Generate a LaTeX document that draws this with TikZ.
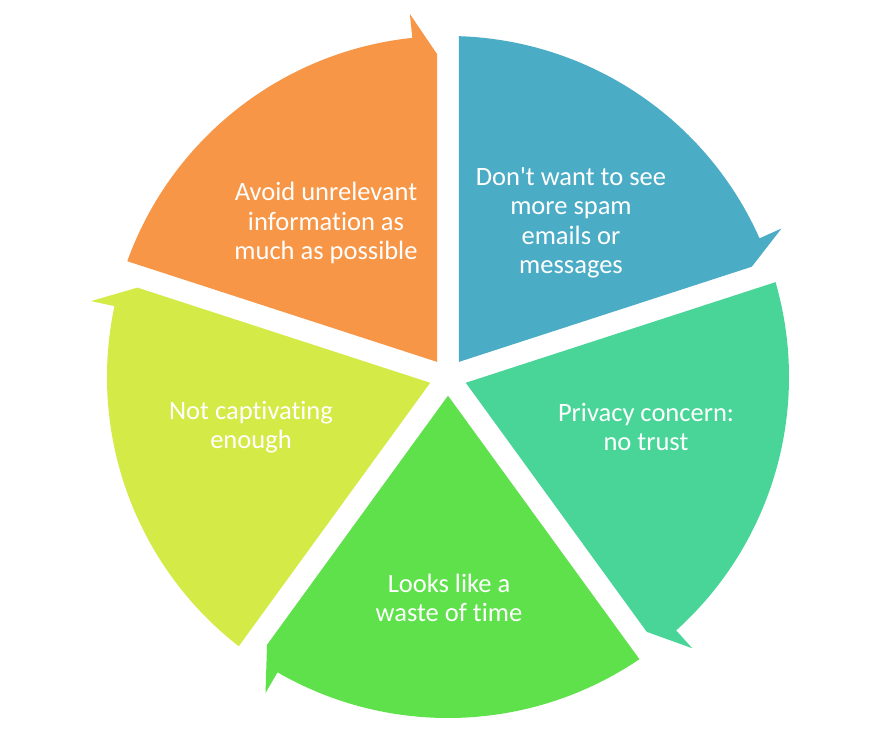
\documentclass[tikz,border=0pt]{standalone}
\usepackage{fontspec}
\setmainfont{Carlito}[Ligatures={TeXOff,NoCommon}]
\definecolor{segblue}{HTML}{4BACC6}
\definecolor{segteal}{HTML}{48D597}
\definecolor{seglime}{HTML}{5EE14A}
\definecolor{segyellow}{HTML}{D4EB47}
\definecolor{segorange}{HTML}{F79646}
\tikzset{
  label text/.style={text=white, align=center, font=\fontsize{26.5pt}{29.5pt}\selectfont, inner sep=0pt}
}
\begin{document}
\begin{tikzpicture}[x=1pt,y=1pt]
\useasboundingbox (0,0) rectangle (892,747);
\fill[white] (0,0) rectangle (892,747);
\begin{scope}[shift={(448,370)}]
\foreach \s/\c in {90/segblue, 18/segteal, -54/seglime, -126/segyellow, 162/segorange}{
  \pgfmathsetmacro\e{\s-72}
  \pgfmathsetmacro\sa{\s-1.849}
  \pgfmathsetmacro\ea{\e+6}
  \pgfmathsetmacro\ep{\e+90}
  \pgfmathsetmacro\ap{\s-36}
  \fill[\c] (\ap:18.7pt) -- (\sa:341pt)
     arc[start angle=\sa, end angle=\ea, radius=341pt]
     -- (\ea:365pt)
     -- ([shift={(\ep:11pt)}]\e:323pt) -- cycle;
}
\end{scope}
\node[label text] (t1) at (571,524) {Don't want to see\\more spam\\emails or\\messages};
\node[label text] (t2) at (646,320) {Privacy concern:\\no trust};
\node[label text] (t3) at (449,149) {Looks like a\\waste of time};
\node[label text] (t4) at (251,320) {Not captivating\\enough};
\node[label text] (t5) at (326,524) {Avoid unrelevant\\information as\\much as possible};
\end{tikzpicture}
\end{document}
